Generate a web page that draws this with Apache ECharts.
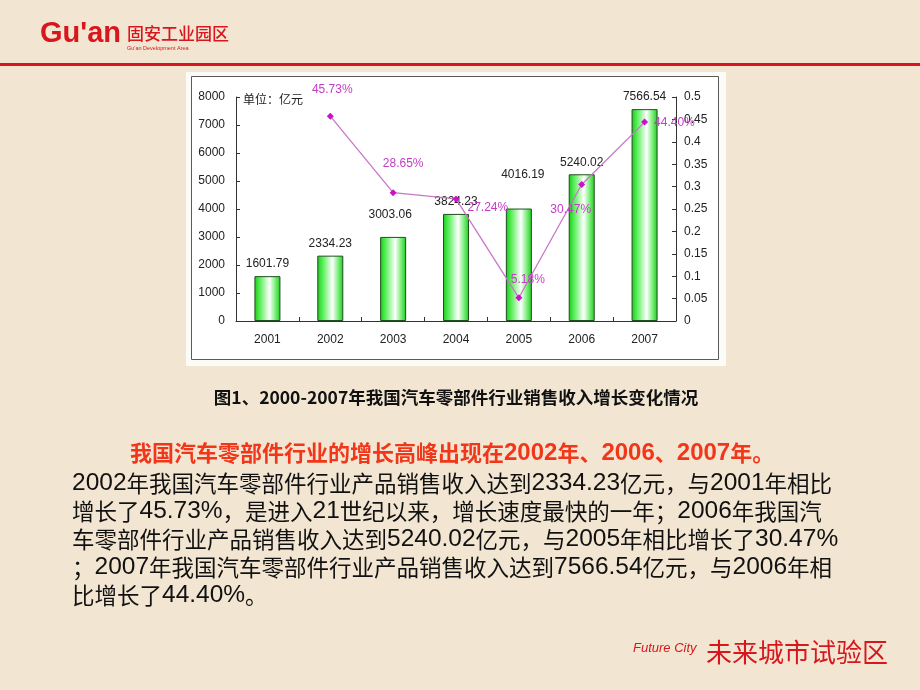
<!DOCTYPE html>
<html><head><meta charset="utf-8">
<script src="https://cdn.jsdelivr.net/npm/echarts@6/dist/echarts.min.js"></script>
<style>html,body{margin:0;padding:0;background:#F2E6D2;}#c{width:920px;height:690px;}</style>
</head><body><div id="c"></div>
<script>
// ---- data ----
const years = ['2001','2002','2003','2004','2005','2006','2007'];
const revenue = [1601.79, 2334.23, 3003.06, 3824.23, 4016.19, 5240.02, 7566.54];
const growth = [null, 0.4573, 0.2865, 0.2724, 0.0518, 0.3047, 0.4440];
const leftTicks = {min: 0, max: 8000, step: 1000};
const rightTicks = {min: 0, max: 0.5, step: 0.05};
const unitText = '单位：亿元';
const figTitle = '图1、2000-2007年我国汽车零部件行业销售收入增长变化情况';
const headline = '我国汽车零部件行业的增长高峰出现在2002年、2006、2007年。';
const bodyLines = [
  '2002年我国汽车零部件行业产品销售收入达到2334.23亿元，与2001年相比',
  '增长了45.73%，是进入21世纪以来，增长速度最快的一年；2006年我国汽',
  '车零部件行业产品销售收入达到5240.02亿元，与2005年相比增长了30.47%',
  '；2007年我国汽车零部件行业产品销售收入达到7566.54亿元，与2006年相',
  '比增长了44.40%。'
];
const logoLatin = "Gu'an";
const logoCn = '固安工业园区';
const logoSub = "Gu'an Development Area";
const footLatin = 'Future City';
const footCn = '未来城市试验区';

// ---- styling helpers ----
const RED = '#D7161E';
const CJK = '"Noto Sans CJK SC", sans-serif';
const LAT = '"Liberation Sans", Arial, sans-serif';
function richify(s){ return s.replace(/[0-9.%\-]+/g, m => '{n|' + m + '}'); }

// label tweaks (style only)
const barLabelStyle = {2: {distance: 16, offset: [-3, 0]}, 4: {distance: 28, offset: [4, 0]}};
const lineLabelStyle = {
  1: {position: 'top', distance: 17, offset: [2, 0]},
  2: {position: 'top', distance: 19, offset: [10, 0]},
  3: {position: 'right', distance: 8, offset: [0, 9]},
  4: {position: 'top', distance: 9, offset: [9, 0]},
  5: {position: 'bottom', distance: 16, offset: [-11, 0]},
  6: {position: 'right', distance: 6, offset: [0, 1]}
};

const barData = revenue.map((v, i) => ({value: v, label: barLabelStyle[i]}));
const lineData = growth.map((v, i) => (v == null ? null : {value: v, label: lineLabelStyle[i]}));

const bodyTop = 483, bodyStep = 28;
const graphics = [
  // chart image frame
  {type: 'rect', shape: {x: 186, y: 72, width: 540, height: 294}, style: {fill: '#FBFBF8'}, z: -10},
  {type: 'rect', shape: {x: 191.5, y: 76.5, width: 527, height: 283}, style: {fill: '#FFFFFF', stroke: '#5A5A5A', lineWidth: 1}, z: -9},
  // header rule
  {type: 'rect', shape: {x: 0, y: 63, width: 920, height: 3}, style: {fill: RED}},
  // logo
  {type: 'text', x: 40, y: 34, style: {text: logoLatin, fill: RED, font: 'bold 29px ' + LAT, textVerticalAlign: 'middle'}},
  {type: 'text', x: 127, y: 34, style: {text: logoCn, fill: RED, font: '500 17px ' + CJK, textVerticalAlign: 'middle'}},
  {type: 'text', x: 127, y: 48, style: {text: logoSub, fill: RED, font: '5.5px ' + LAT, textVerticalAlign: 'middle'}},
  // unit
  {type: 'text', x: 243, y: 99, style: {text: unitText, fill: '#222', font: '12px ' + CJK, textVerticalAlign: 'middle'}},
  // figure title
  {type: 'text', x: 456, y: 397, style: {text: figTitle, fill: '#111', font: 'bold 17.5px ' + CJK, textAlign: 'center', textVerticalAlign: 'middle'}},
  // headline
  {type: 'text', x: 130, y: 453, style: {
    text: richify(headline), fill: '#F2361A', font: 'bold 22px ' + CJK, textVerticalAlign: 'middle',
    rich: {n: {fontFamily: LAT, fontSize: 24, fontWeight: 'bold', fill: '#F2361A'}}
  }},
  // footer
  {type: 'text', x: 633, y: 648, style: {text: footLatin, fill: RED, font: 'italic 13px ' + LAT, textVerticalAlign: 'middle'}},
  {type: 'text', x: 706, y: 652, style: {text: footCn, fill: RED, font: '26px ' + CJK, textVerticalAlign: 'middle'}}
];
bodyLines.forEach((ln, i) => {
  graphics.push({type: 'text', x: 72, y: bodyTop + i * bodyStep, style: {
    text: richify(ln), fill: '#111', font: '22.5px ' + CJK, textVerticalAlign: 'middle',
    rich: {n: {fontFamily: LAT, fontSize: 24.5, fill: '#111'}}
  }});
});

const axisCommon = {
  axisLine: {show: true, lineStyle: {color: '#333', width: 1}},
  axisTick: {show: true, inside: true, length: 4, lineStyle: {color: '#333'}},
  splitLine: {show: false}
};

const chart = echarts.init(document.getElementById('c'), null, {renderer: 'canvas'});
chart.setOption({
  backgroundColor: '#F2E6D2',
  animation: false,
  graphic: graphics,
  grid: {left: 236, right: 244, top: 97, bottom: 369, containLabel: false},
  xAxis: {
    type: 'category', data: years, boundaryGap: true,
    axisLine: {lineStyle: {color: '#333'}},
    axisTick: {show: true, inside: true, length: 4, alignWithLabel: false, lineStyle: {color: '#333'}},
    axisLabel: {color: '#222', fontSize: 12, fontFamily: LAT, margin: 13}
  },
  yAxis: [
    Object.assign({type: 'value', min: leftTicks.min, max: leftTicks.max, interval: leftTicks.step}, axisCommon,
      {axisLabel: {color: '#222', fontSize: 12, fontFamily: LAT, margin: 11, formatter: v => String(v)}}),
    Object.assign({type: 'value', min: rightTicks.min, max: rightTicks.max, interval: rightTicks.step, position: 'right'}, axisCommon,
      {axisLabel: {color: '#222', fontSize: 12, fontFamily: LAT, margin: 8, formatter: v => String(+v.toFixed(2))}})
  ],
  series: [
    {
      type: 'bar', data: barData, barWidth: 26, yAxisIndex: 0,
      itemStyle: {
        color: new echarts.graphic.LinearGradient(0, 0, 1, 0, [
          {offset: 0, color: '#1FC41F'},
          {offset: 0.18, color: '#4CEC4C'},
          {offset: 0.58, color: '#FFFFFF'},
          {offset: 0.82, color: '#70EE70'},
          {offset: 1, color: '#22C622'}
        ]),
        borderColor: '#1E4F1E', borderWidth: 1
      },
      label: {show: true, position: 'top', distance: 6, color: '#222', fontSize: 12, fontFamily: LAT}
    },
    {
      type: 'line', data: lineData, yAxisIndex: 1, connectNulls: false,
      symbol: 'diamond', symbolSize: 7, itemStyle: {color: '#CC11CC'},
      lineStyle: {color: '#C877C8', width: 1.3},
      label: {show: true, color: '#C43CC4', fontSize: 12, fontFamily: LAT,
        formatter: p => (p.value * 100).toFixed(2) + '%'}
    }
  ]
});
</script>
</body></html>
